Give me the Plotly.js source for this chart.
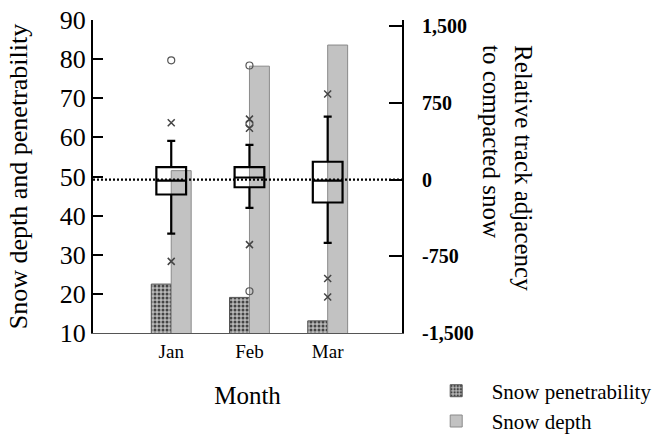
<!DOCTYPE html>
<html>
<head>
<meta charset="utf-8">
<script src="https://cdn.plot.ly/plotly-3.0.1.min.js"></script>
<style>
  html, body { margin: 0; padding: 0; background: #ffffff; }
  #chart { width: 656px; height: 441px; }
</style>
</head>
<body>
<div id="chart"></div>
<script>
// ---- data ----
const months = ['Jan', 'Feb', 'Mar'];
const penetrability = [22.5, 19.1, 13.1];
const depth = [51.5, 78.2, 83.6];

// relative track adjacency (right axis) box statistics
const boxLower = [-529, -277, -618];
const boxQ1 = [-146, -75, -224];
const boxMedian = [-10, 20, -10];
const boxQ3 = [122, 122, 174];
const boxUpper = [378, 340, 615];

// outliers (circles) and extremes (crosses)
const outlierMonths = ['Jan', 'Feb', 'Feb', 'Feb'];
const outlierValues = [1166, 1115, 544, -1092];
const extremeMonths = ['Jan', 'Jan', 'Feb', 'Feb', 'Feb', 'Mar', 'Mar', 'Mar'];
const extremeValues = [556, -800, 591, 502, -636, 837, -968, -1148];

const leftTickVals = [10, 20, 30, 40, 50, 60, 70, 80, 90];
const rightTickVals = [-1500, -750, 0, 750, 1500];
const rightTickText = ['-1,500', '-750', '0', '750', '1,500'];

const serif = 'Liberation Serif';

const traces = [
  {
    type: 'bar', name: 'Snow penetrability', x: months, y: penetrability,
    marker: {
      color: '#a8a8a8',
      line: { color: '#555555', width: 1 },
      pattern: { shape: '.', fgcolor: '#444444', bgcolor: '#b8b8b8', size: 4, solidity: 0.45 }
    },
    hoverinfo: 'skip'
  },
  {
    type: 'bar', name: 'Snow depth', x: months, y: depth,
    marker: { color: '#c2c2c2', line: { color: '#8a8a8a', width: 1 } },
    hoverinfo: 'skip'
  },
  {
    type: 'box', x: months, yaxis: 'y2', showlegend: false,
    q1: boxQ1, median: boxMedian, q3: boxQ3,
    lowerfence: boxLower, upperfence: boxUpper,
    boxpoints: false, width: 0.38, whiskerwidth: 0.27,
    line: { color: '#000000', width: 2.2 },
    fillcolor: 'rgba(0,0,0,0)', hoverinfo: 'skip'
  },
  {
    type: 'scatter', mode: 'markers', x: outlierMonths, y: outlierValues, yaxis: 'y2',
    showlegend: false, hoverinfo: 'skip',
    marker: { symbol: 'circle-open', size: 7, color: '#555555', line: { width: 1.2, color: '#555555' } }
  },
  {
    type: 'scatter', mode: 'markers', x: extremeMonths, y: extremeValues, yaxis: 'y2',
    showlegend: false, hoverinfo: 'skip',
    marker: { symbol: 'x-thin-open', size: 7, color: '#444444', line: { width: 1.5, color: '#444444' } }
  }
];

const layout = {
  width: 656, height: 441,
  margin: { l: 93, r: 254, t: 20, b: 108, autoexpand: false },
  paper_bgcolor: '#ffffff', plot_bgcolor: '#ffffff',
  font: { family: serif, color: '#000000' },
  barmode: 'group', bargap: 0.49, bargroupgap: 0,
  showlegend: true,
  legend: {
    x: 1.0605, y: -0.12, xanchor: 'left', yanchor: 'top',
    font: { family: serif, size: 21, color: '#000000' },
    bgcolor: 'rgba(0,0,0,0)', itemwidth: 61, tracegroupgap: 0
  },
  xaxis: {
    type: 'category', range: [-1, 2.95], automargin: false,
    showline: true, linecolor: '#555555', linewidth: 1.2, mirror: false,
    ticks: '', showgrid: false, zeroline: false,
    tickfont: { family: serif, size: 19, color: '#000000' },
    ticklabelstandoff: 1,
    title: { text: 'Month', font: { family: serif, size: 25, color: '#000000' }, standoff: 25 }
  },
  yaxis: {
    range: [10, 90], tickvals: leftTickVals, automargin: false,
    showline: true, linecolor: '#000000', linewidth: 2,
    ticks: 'inside', ticklen: 10, tickwidth: 2, tickcolor: '#000000',
    showgrid: false, zeroline: false,
    tickfont: { family: serif, size: 26, color: '#000000' },
    title: { text: 'Snow depth and penetrability', font: { family: serif, size: 26, color: '#000000' }, standoff: 25 }
  },
  yaxis2: {
    overlaying: 'y', side: 'right', range: [-1500, 1560], automargin: false,
    tickvals: rightTickVals, ticktext: rightTickText,
    showline: true, linecolor: '#000000', linewidth: 2,
    ticks: 'inside', ticklen: 13, tickwidth: 2, tickcolor: '#000000',
    showgrid: false, zeroline: false,
    ticklabelstandoff: 14,
    tickfont: { family: serif, size: 20, color: '#000000', weight: 'bold' }
  },
  shapes: [
    { type: 'line', xref: 'paper', x0: 0, x1: 1, yref: 'y2', y0: 0, y1: 0,
      line: { color: '#000000', width: 2.2, dash: '2px,2px' }, layer: 'above' }
  ],
  annotations: [
    { xref: 'paper', yref: 'paper', x: 1.34, y: 0.527, xanchor: 'center', yanchor: 'middle',
      text: 'Relative track adjacency<br>to compacted snow', textangle: 90, align: 'left',
      showarrow: false, font: { family: serif, size: 25, color: '#000000' } }
  ]
};

Plotly.newPlot('chart', traces, layout, { displayModeBar: false, staticPlot: true });
</script>
</body>
</html>
